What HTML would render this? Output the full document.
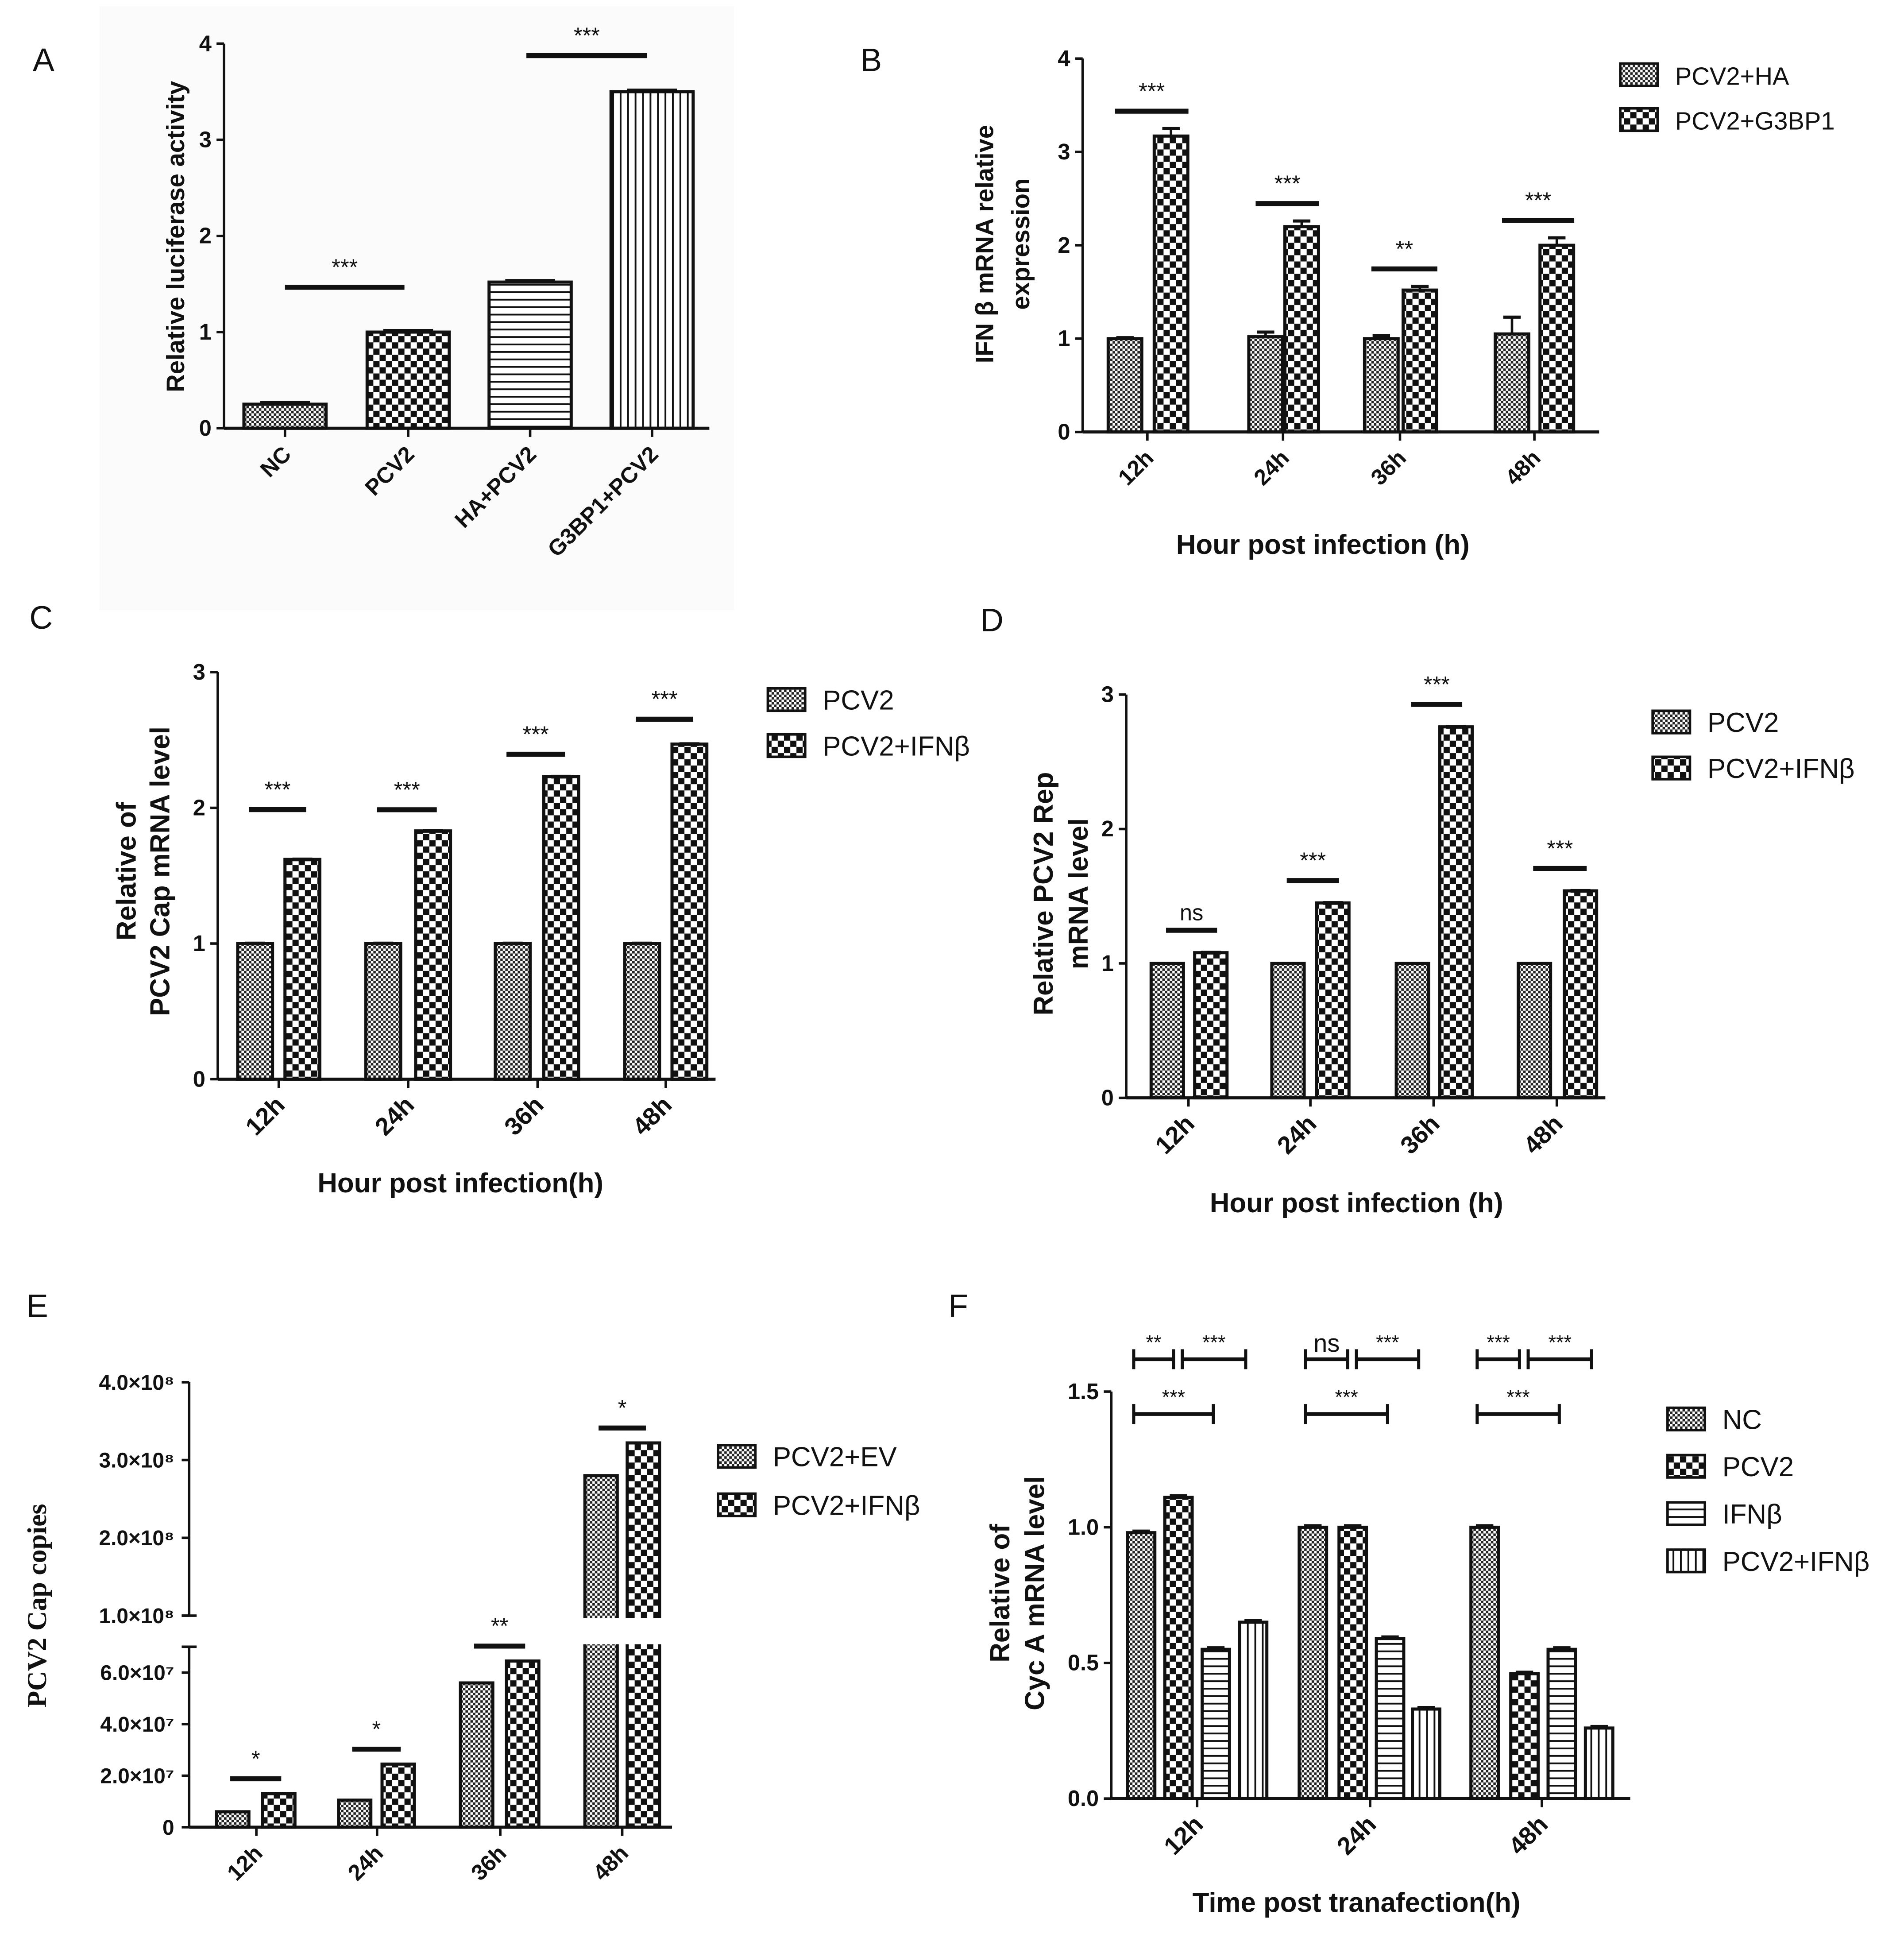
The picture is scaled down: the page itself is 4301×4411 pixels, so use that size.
<!DOCTYPE html>
<html><head><meta charset="utf-8">
<style>
html,body{margin:0;padding:0;background:#fff}
svg{display:block;font-family:"Liberation Sans",Arial,sans-serif}
</style></head>
<body>
<svg id="fig" width="4301" height="4411" viewBox="0 0 1530 1569" xmlns="http://www.w3.org/2000/svg">
<defs>
<pattern id="pFine" width="4" height="4" patternUnits="userSpaceOnUse"><rect width="4" height="4" fill="#fff"/><rect width="2" height="2" fill="#222"/><rect x="2" y="2" width="2" height="2" fill="#222"/></pattern>
<pattern id="pCheck" width="10" height="10" patternUnits="userSpaceOnUse"><rect width="10" height="10" fill="#fff"/><rect width="5" height="5" fill="#111"/><rect x="5" y="5" width="5" height="5" fill="#111"/></pattern>
<pattern id="pHoriz" width="6" height="6" patternUnits="userSpaceOnUse"><rect width="6" height="6" fill="#fff"/><rect y="0" width="6" height="1.4" fill="#111"/></pattern>
<pattern id="pVert" width="6" height="6" patternUnits="userSpaceOnUse"><rect width="6" height="6" fill="#fff"/><rect x="0" width="1.4" height="6" fill="#111"/></pattern>
</defs>
</svg>
<script>
// ---- Panel A data
const aCats=["NC","PCV2","HA+PCV2","G3BP1+PCV2"];
const aVals=[0.25,1.0,1.52,3.5];
const aTicks=[0,1,2,3,4];
// ---- Panel B data
const bCats=["12h","24h","36h","48h"];
const bHA=[1.0,1.02,1.0,1.05];
const bHAerr=[0.01,0.05,0.03,0.18];
const bG3=[3.17,2.2,1.52,2.0];
const bG3err=[0.08,0.06,0.04,0.08];
const bTicks=[0,1,2,3,4];
const bSig=["***","***","**","***"];
// ---- Panel C data
const cCats=["12h","24h","36h","48h"];
const cPCV2=[1,1,1,1];
const cIFN=[1.62,1.83,2.23,2.47];
const cTicks=[0,1,2,3];
const cSig=["***","***","***","***"];
// ---- Panel D data
const dCats=["12h","24h","36h","48h"];
const dPCV2=[1,1,1,1];
const dIFN=[1.08,1.45,2.76,1.54];
const dTicks=[0,1,2,3];
const dSig=["ns","***","***","***"];
// ---- Panel E data
const eCats=["12h","24h","36h","48h"];
const eEV=[0.6e7,1.05e7,5.6e7,2.8e8];
const eIFN=[1.3e7,2.45e7,6.45e7,3.22e8];
const eLowTicks=[0,2e7,4e7,6e7];
const eLowLabels=["0","2.0×10⁷","4.0×10⁷","6.0×10⁷"];
const eHighTicks=[1e8,2e8,3e8,4e8];
const eHighLabels=["1.0×10⁸","2.0×10⁸","3.0×10⁸","4.0×10⁸"];
const eSig=["*","*","**","*"];
// ---- Panel F data
const fCats=["12h","24h","48h"];
const fNC=[0.98,1.0,1.0];
const fPCV2=[1.11,1.0,0.46];
const fIFN=[0.55,0.59,0.55];
const fBoth=[0.65,0.33,0.26];
const fTicks=[0,0.5,1.0,1.5];
const fTickLabels=["0.0","0.5","1.0","1.5"];
const fSigTopL=["**","ns","***"];
const fSigTopR=["***","***","***"];
const fSigLow=["***","***","***"];

const NS="http://www.w3.org/2000/svg";
const svg=document.getElementById('fig');
function mk(tag,attrs,parent,name){const e=document.createElementNS(NS,tag);for(const k in attrs)e.setAttribute(k,attrs[k]);(parent||svg).appendChild(e);


return e;}
function txt(x,y,s,size,opts,name){opts=opts||{};const t=mk('text',{x:x,y:y,'font-size':size,'text-anchor':opts.anchor||'middle','font-weight':opts.bold?'bold':'normal',fill:'#111'},null,name);if(opts.rot!==undefined)t.setAttribute('transform',`rotate(${opts.rot} ${x} ${y})`);if(opts.family)t.setAttribute('font-family',opts.family);t.textContent=s;return t;}
function line(x1,y1,x2,y2,w,name){return mk('line',{x1,y1,x2,y2,stroke:'#111','stroke-width':w||2},null,name);}
function bar(x,w,y0,y1,fill,name){mk('rect',{x:x-w/2,y:y1,width:w,height:y0-y1,fill:fill,stroke:'#111','stroke-width':2.5},null,name);}
function errb(x,yv,ye,w,name){line(x,yv,x,ye,2,name);line(x-w/2,ye,x+w/2,ye,2.5,name+'-cap');}
function yAxis(x,y0,yTop,ticks,labels,scale,size,name){line(x,y0,x,yTop,2,name);ticks.forEach((t,i)=>{const y=scale(t);line(x-6,y,x,y,2,name+'-tick');txt(x-10,y+6,labels[i],size,{anchor:'end',bold:true},name+'-label');});}
function xAxis(x0,x1,y,centers,cats,size,name){line(x0,y,x1,y,2.5,name);centers.forEach((c,i)=>{line(c,y,c,y+7,2,name+'-tick');txt(c+6,y+22,cats[i],size,{anchor:'end',bold:true,rot:-45},name+'-label');});}
function sig(x1,x2,y,label,size,name){line(x1,y,x2,y,4,name);txt((x1+x2)/2,y-(label==='ns'?8:10),label,size,{},name+'-label');}
function bracket(x1,x2,y,label,name){line(x1,y,x2,y,3,name);line(x1,y-8,x1,y+8,2.5,name+'-end');line(x2,y-8,x2,y+8,2.5,name+'-end');txt((x1+x2)/2,y-(label==='ns'?6:8),label,label==='ns'?20:16,{},name+'-label');}
function legend(x,y,fill,label,size,name){mk('rect',{x:x,y:y-9,width:30,height:18,fill:fill,stroke:'#111','stroke-width':2},null,name+'-swatch');txt(x+44,y+8,label,size,{anchor:'start'},name);}

[["A",35,57],["B",700,57],["C",33,505],["D",797,507],["E",30,1058],["F",770,1058]].forEach(p=>txt(p[1],p[2],p[0],26,{},'panel-label-'+p[0].toLowerCase()));

// ===== A
(function(){const x0=180,y0=344,u=77.25;const sy=v=>y0-v*u;
mk('rect',{x:80,y:5,width:510,height:485,fill:'#fbfbfb'},null,'panel-a-background');
const cx=[229,328,426,524];const fills=['url(#pFine)','url(#pCheck)','url(#pHoriz)','url(#pVert)'];
aVals.forEach((v,i)=>{bar(cx[i],66,y0,sy(v),fills[i],'bar-a-'+aCats[i].toLowerCase());line(cx[i]-20,sy(v)-1,cx[i]+20,sy(v)-1,3,'error-bar-a');});
yAxis(x0,y0,sy(4),aTicks,aTicks.map(String),sy,18,'y-axis-a');
xAxis(x0,570,y0,cx,aCats,18,'x-axis-a');
sig(229,325,sy(aVals[1])-36,'***',18,'sig-a-1');sig(423,520,sy(aVals[3])-29,'***',18,'sig-a-2');
txt(148,190,'Relative luciferase activity',20,{bold:true,rot:-90},'y-axis-title-a');
})();

// ===== B
(function(){const x0=870,y0=347,u=75;const sy=v=>y0-v*u;
const c1=[904,1017,1110,1215],c2=[941,1046,1141,1251];
bCats.forEach((c,i)=>{bar(c1[i],27,y0,sy(bHA[i]),'url(#pFine)','bar-b-ha-'+c);errb(c1[i],sy(bHA[i]),sy(bHA[i]+bHAerr[i]),14,'error-bar-b-ha');
bar(c2[i],27,y0,sy(bG3[i]),'url(#pCheck)','bar-b-g3bp1-'+c);errb(c2[i],sy(bG3[i]),sy(bG3[i]+bG3err[i]),14,'error-bar-b-g3bp1');
sig(c1[i]-8,c2[i]+14,sy(bG3[i]+bG3err[i])-14,bSig[i],18,'sig-b-'+c);});
yAxis(x0,y0,sy(4),bTicks,bTicks.map(String),sy,18,'y-axis-b');
xAxis(x0,1285,y0,[922,1031,1125,1233],bCats,18,'x-axis-b');
txt(798,196,'IFN β mRNA  relative',20,{bold:true,rot:-90},'y-axis-title-b');
txt(827,196,'expression',20,{bold:true,rot:-90},'y-axis-title-b-2');
txt(1063,445,'Hour post infection (h)',22,{bold:true},'x-axis-title-b');
legend(1302,60,'url(#pFine)','PCV2+HA',20,'legend-b-ha');legend(1302,96,'url(#pCheck)','PCV2+G3BP1',20,'legend-b-g3bp1');
})();

// ===== C
(function(){const x0=175,y0=867,u=109;const sy=v=>y0-v*u;
const c1=[205,308,412,516],c2=[243,348,451,554];const off=[40,17,18,20];
cCats.forEach((c,i)=>{bar(c1[i],28,y0,sy(cPCV2[i]),'url(#pFine)','bar-c-pcv2-'+c);line(c1[i]-8,sy(cPCV2[i]),c1[i]+8,sy(cPCV2[i]),3,'error-bar-c');
bar(c2[i],28,y0,sy(cIFN[i]),'url(#pCheck)','bar-c-ifn-'+c);line(c2[i]-8,sy(cIFN[i]),c2[i]+8,sy(cIFN[i]),3,'error-bar-c');
sig(c1[i]-5,c2[i]+3,sy(cIFN[i])-off[i],cSig[i],18,'sig-c-'+c);});
yAxis(x0,y0,sy(3),cTicks,cTicks.map(String),sy,18,'y-axis-c');
xAxis(x0,575,y0,[224,328,432,535],cCats,20,'x-axis-c');
txt(109,700,'Relative of',22,{bold:true,rot:-90},'y-axis-title-c');
txt(136,700,'PCV2 Cap mRNA level',22,{bold:true,rot:-90},'y-axis-title-c-2');
txt(370,958,'Hour post infection(h)',22,{bold:true},'x-axis-title-c');
legend(617,562,'url(#pFine)','PCV2',22,'legend-c-pcv2');legend(617,599,'url(#pCheck)','PCV2+IFNβ',22,'legend-c-ifn');
})();

// ===== D
(function(){const x0=905,y0=882,u=108;const sy=v=>y0-v*u;
const c1=[938,1035,1135,1233],c2=[973,1071,1170,1270];
dCats.forEach((c,i)=>{bar(c1[i],26,y0,sy(dPCV2[i]),'url(#pFine)','bar-d-pcv2-'+c);
bar(c2[i],26,y0,sy(dIFN[i]),'url(#pCheck)','bar-d-ifn-'+c);line(c2[i]-8,sy(dIFN[i]),c2[i]+8,sy(dIFN[i]),3,'error-bar-d');
sig(c1[i]-1,c2[i]+5,sy(dIFN[i])-18,dSig[i],18,'sig-d-'+c);});
yAxis(x0,y0,sy(3),dTicks,dTicks.map(String),sy,18,'y-axis-d');
xAxis(x0,1290,y0,[955,1053,1152,1251],dCats,20,'x-axis-d');
txt(846,718,'Relative PCV2 Rep',22,{bold:true,rot:-90},'y-axis-title-d');
txt(874,718,'mRNA level',22,{bold:true,rot:-90},'y-axis-title-d-2');
txt(1090,974,'Hour post infection (h)',22,{bold:true},'x-axis-title-d');
legend(1328,580,'url(#pFine)','PCV2',22,'legend-d-pcv2');legend(1328,617,'url(#pCheck)','PCV2+IFNβ',22,'legend-d-ifn');
})();

// ===== E
(function(){const x0=152,y0=1468,uL=20.7/1e7,yH0=1298,uH=62.5/1e8,breakLow=1323;
const sy=v=>v<=7e7?y0-v*uL:yH0-(v-1e8)*uH;
const c1=[187,285,383,483],c2=[224,320,420,517];
eCats.forEach((c,i)=>{[[c1[i],eEV[i],'url(#pFine)','ev'],[c2[i],eIFN[i],'url(#pCheck)','ifn']].forEach(b=>{
bar(b[0],26,y0,sy(b[1]),b[2],'bar-e-'+b[3]+'-'+c);
if(b[1]>1e8){mk('rect',{x:b[0]-16,y:yH0+2,width:32,height:breakLow-yH0-4,fill:'#fff'},null,'axis-break-gap');}
});
sig(c1[i]-2,c2[i]+2,sy(eIFN[i])-12,eSig[i],18,'sig-e-'+c);});
line(x0,y0,x0,breakLow,2,'y-axis-e-lower');line(x0,yH0,x0,sy(4e8),2,'y-axis-e-upper');
line(x0-6,yH0,x0+6,yH0,2,'y-axis-e-break-mark');line(x0-6,breakLow,x0+6,breakLow,2,'y-axis-e-break-mark');
eLowTicks.forEach((t,i)=>{line(x0-6,sy(t),x0,sy(t),2,'y-tick-e');txt(x0-12,sy(t)+6,eLowLabels[i],17,{anchor:'end',bold:true},'y-tick-label-e');});
eHighTicks.forEach((t,i)=>{line(x0-6,sy(t),x0,sy(t),2,'y-tick-e');txt(x0-12,sy(t)+6,eHighLabels[i],17,{anchor:'end',bold:true},'y-tick-label-e');});
xAxis(x0,540,y0,[206,303,402,500],eCats,18,'x-axis-e');
txt(37,1290,'PCV2 Cap copies',22,{bold:true,rot:-90,family:'"Liberation Serif",serif'},'y-axis-title-e');
legend(577,1170,'url(#pFine)','PCV2+EV',22,'legend-e-ev');legend(577,1209,'url(#pCheck)','PCV2+IFNβ',22,'legend-e-ifn');
})();

// ===== F
(function(){const x0=893,y0=1445,u=218;const sy=v=>y0-v*u;
const groups=[[917,947,977,1007],[1055,1087,1117,1146],[1193,1225,1255,1285]];
const fills=['url(#pFine)','url(#pCheck)','url(#pHoriz)','url(#pVert)'];
const series=[fNC,fPCV2,fIFN,fBoth],sn=['nc','pcv2','ifn','pcv2-ifn'];
fCats.forEach((c,g)=>{series.forEach((s,k)=>{const x=groups[g][k];bar(x,22,y0,sy(s[g]),fills[k],'bar-f-'+sn[k]+'-'+c);line(x-7,sy(s[g])-1,x+7,sy(s[g])-1,3,'error-bar-f');});
const gx=groups[g];
bracket(gx[0]-6,gx[1]-4,1092,fSigTopL[g],'sig-f-top-left-'+c);
bracket(gx[1]+3,gx[3]-6,1092,fSigTopR[g],'sig-f-top-right-'+c);
bracket(gx[0]-6,gx[2]-2,1136,fSigLow[g],'sig-f-low-'+c);});
yAxis(x0,y0,sy(1.5),fTicks,fTickLabels,sy,18,'y-axis-f');
xAxis(x0,1310,y0,[962,1101,1239],fCats,20,'x-axis-f');
txt(811,1280,'Relative of',22,{bold:true,rot:-90},'y-axis-title-f');
txt(839,1280,'Cyc A mRNA level',22,{bold:true,rot:-90},'y-axis-title-f-2');
txt(1090,1536,'Time post tranafection(h)',22,{bold:true},'x-axis-title-f');
legend(1340,1140,'url(#pFine)','NC',22,'legend-f-nc');legend(1340,1178,'url(#pCheck)','PCV2',22,'legend-f-pcv2');
legend(1340,1216,'url(#pHoriz)','IFNβ',22,'legend-f-ifn');legend(1340,1254,'url(#pVert)','PCV2+IFNβ',22,'legend-f-pcv2-ifn');
})();
</script>
</body></html>
